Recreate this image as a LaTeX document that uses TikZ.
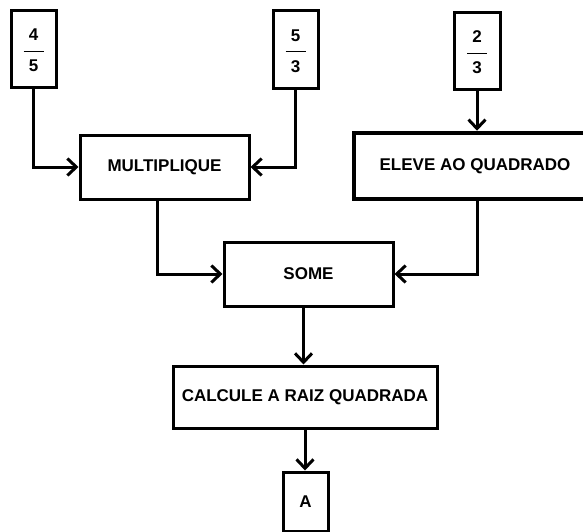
\documentclass[tikz,border=0pt]{standalone}
\usepackage{fontspec}
\setmainfont{Liberation Sans}
\usetikzlibrary{arrows.meta}
\newcommand{\myfr}[2]{\raisebox{-3pt}[\height][\depth]{\bfseries\begin{tabular}{@{}c@{}}\bfseries #1\\[-4pt]\rule[5pt]{20pt}{1.3pt}\\[-5pt]\bfseries #2\end{tabular}}}
\begin{document}
\begin{tikzpicture}[x=1pt,y=-1pt,
  box/.style={draw,line width=3pt,inner sep=0pt,font=\bfseries\fontsize{17}{20}\selectfont},
  arr/.style={line width=3pt,-{Straight Barb[length=9pt,width=17pt,line width=3pt]}}]
\clip (0,0) rectangle (583,532);
\fill[white] (0,0) rectangle (583,532);
\node[box,minimum width=45pt,minimum height=77pt] (f1) at (33.5,49.5) {\myfr{4}{5}};
\node[box,minimum width=45pt,minimum height=78pt] (f2) at (295.5,50) {\myfr{5}{3}};
\node[box,minimum width=46pt,minimum height=77pt] (f3) at (477,51.5) {\myfr{2}{3}};
\node[box,minimum width=169pt,minimum height=64pt] (mult) at (164.5,167) {MULTIPLIQUE};
\node[box,line width=4.5pt,minimum width=242pt,minimum height=66pt] (elev) at (475,166) {ELEVE AO QUADRADO};
\node[box,minimum width=169pt,minimum height=64pt] (some) at (308.5,274) {SOME};
\node[box,minimum width=264pt,minimum height=62pt] (calc) at (305,397) {CALCULE A RAIZ QUADRADA};
\node[box,minimum width=45pt,minimum height=59pt] (a) at (305.5,501.5) {A};
\coordinate (m1) at ([xshift=-7.5pt]mult.south);
\coordinate (s1) at ([xshift=-5pt]some.south);
\draw[arr] (f1.south) |- (mult.west);
\draw[arr] (f2.south) |- (mult.east);
\draw[arr] (f3.south) -- (f3.south |- elev.north);
\draw[arr] (m1) |- (some.west);
\draw[arr] ([xshift=2pt]elev.south) |- (some.east);
\draw[arr] (s1) -- (s1 |- calc.north);
\draw[arr] (calc.south) -- (calc.south |- a.north);
\end{tikzpicture}
\end{document}
